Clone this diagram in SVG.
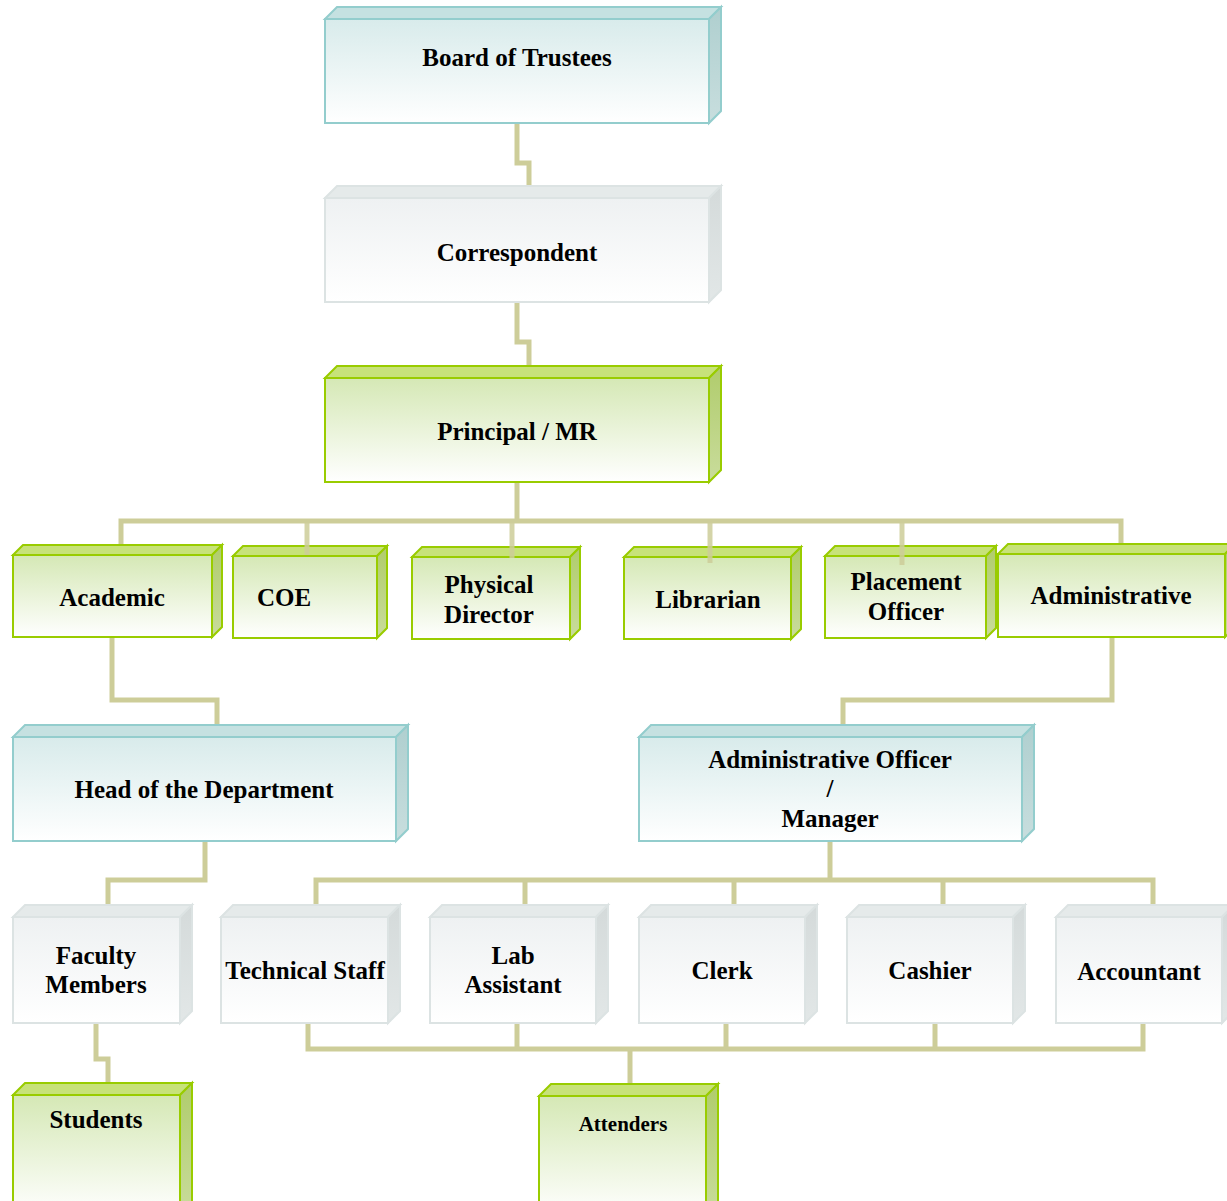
<svg xmlns="http://www.w3.org/2000/svg" width="1227" height="1201" viewBox="0 0 1227 1201">
<defs>
<linearGradient id="gBlue" x1="0" y1="0" x2="0" y2="1"><stop offset="0" stop-color="#d8ebeb"/><stop offset="1" stop-color="#ffffff"/></linearGradient>
<linearGradient id="gGreen" x1="0" y1="0" x2="0" y2="1"><stop offset="0" stop-color="#d5e8b5"/><stop offset="1" stop-color="#ffffff"/></linearGradient>
<linearGradient id="gGray" x1="0" y1="0" x2="0" y2="1"><stop offset="0" stop-color="#eef1f2"/><stop offset="1" stop-color="#ffffff"/></linearGradient>
<linearGradient id="sBlue" x1="0" y1="0" x2="0" y2="1"><stop offset="0" stop-color="#afcfcf"/><stop offset="1" stop-color="#c8dede"/></linearGradient>
<linearGradient id="sGreen" x1="0" y1="0" x2="0" y2="1"><stop offset="0" stop-color="#b0cc6c"/><stop offset="1" stop-color="#c9dc9c"/></linearGradient>
<linearGradient id="sGray" x1="0" y1="0" x2="0" y2="1"><stop offset="0" stop-color="#d4dada"/><stop offset="1" stop-color="#e2e7e7"/></linearGradient>
</defs>
<style>
.blue .t{fill:#c5e1e1;stroke:#93cdcd;stroke-width:2}
.blue .s{fill:url(#sBlue);stroke:#93cdcd;stroke-width:2}
.blue .f{fill:url(#gBlue);stroke:#93cdcd;stroke-width:2}
.green .t{fill:#c7e27a;stroke:#99cc00;stroke-width:2}
.green .s{fill:url(#sGreen);stroke:#99cc00;stroke-width:2}
.green .f{fill:url(#gGreen);stroke:#99cc00;stroke-width:2}
.gray .t{fill:#e5eaea;stroke:#dce3e3;stroke-width:2}
.gray .s{fill:url(#sGray);stroke:#dce3e3;stroke-width:2}
.gray .f{fill:url(#gGray);stroke:#dce3e3;stroke-width:2}
text{font-family:"Liberation Serif","Times New Roman",serif;font-weight:bold;font-size:25px;fill:#000;text-anchor:middle}
.sm{font-size:21px}
.conn path{fill:none;stroke:#cdcd99;stroke-width:5}
</style>
<g id="nodes">
<g id="board" class="blue"><path class="t" d="M325 19 L337 7 H721 L709 19 Z"/><path class="s" d="M709 19 L721 7 V111 L709 123 Z"/><rect class="f" x="325" y="19" width="384" height="104"/><text x="517" y="66">Board of Trustees</text></g>
<g id="correspondent" class="gray"><path class="t" d="M325 198 L337 186 H721 L709 198 Z"/><path class="s" d="M709 198 L721 186 V290 L709 302 Z"/><rect class="f" x="325" y="198" width="384" height="104"/><text x="517" y="261">Correspondent</text></g>
<g id="principal" class="green"><path class="t" d="M325 378 L337 366 H721 L709 378 Z"/><path class="s" d="M709 378 L721 366 V470 L709 482 Z"/><rect class="f" x="325" y="378" width="384" height="104"/><text x="517" y="440">Principal / MR</text></g>
<g id="academic" class="green"><path class="t" d="M13 555 L23 545 H222 L212 555 Z"/><path class="s" d="M212 555 L222 545 V627 L212 637 Z"/><rect class="f" x="13" y="555" width="199" height="82"/><text x="112" y="606">Academic</text></g>
<g id="coe" class="green"><path class="t" d="M233 556 L243 546 H387 L377 556 Z"/><path class="s" d="M377 556 L387 546 V628 L377 638 Z"/><rect class="f" x="233" y="556" width="144" height="82"/><text x="284" y="606">COE</text></g>
<g id="physical-director" class="green"><path class="t" d="M412 557 L422 547 H580 L570 557 Z"/><path class="s" d="M570 557 L580 547 V629 L570 639 Z"/><rect class="f" x="412" y="557" width="158" height="82"/><text x="489" y="593">Physical</text><text x="489" y="623">Director</text></g>
<g id="librarian" class="green"><path class="t" d="M624 557 L634 547 H801 L791 557 Z"/><path class="s" d="M791 557 L801 547 V629 L791 639 Z"/><rect class="f" x="624" y="557" width="167" height="82"/><text x="708" y="608">Librarian</text></g>
<g id="placement-officer" class="green"><path class="t" d="M825 556 L835 546 H996 L986 556 Z"/><path class="s" d="M986 556 L996 546 V628 L986 638 Z"/><rect class="f" x="825" y="556" width="161" height="82"/><text x="906" y="590">Placement</text><text x="906" y="620">Officer</text></g>
<g id="administrative" class="green"><path class="t" d="M998 554 L1008 544 H1235 L1225 554 Z"/><path class="s" d="M1225 554 L1235 544 V627 L1225 637 Z"/><rect class="f" x="998" y="554" width="227" height="83"/><text x="1111" y="604">Administrative</text></g>
<g id="hod" class="blue"><path class="t" d="M13 737 L25 725 H408 L396 737 Z"/><path class="s" d="M396 737 L408 725 V829 L396 841 Z"/><rect class="f" x="13" y="737" width="383" height="104"/><text x="204" y="798">Head of the Department</text></g>
<g id="admin-officer" class="blue"><path class="t" d="M639 737 L651 725 H1034 L1022 737 Z"/><path class="s" d="M1022 737 L1034 725 V829 L1022 841 Z"/><rect class="f" x="639" y="737" width="383" height="104"/><text x="830" y="768">Administrative Officer</text><text x="830" y="797">/</text><text x="830" y="827">Manager</text></g>
<g id="faculty" class="gray"><path class="t" d="M13 917 L25 905 H192 L180 917 Z"/><path class="s" d="M180 917 L192 905 V1011 L180 1023 Z"/><rect class="f" x="13" y="917" width="167" height="106"/><text x="96" y="964">Faculty</text><text x="96" y="993">Members</text></g>
<g id="technical-staff" class="gray"><path class="t" d="M221 917 L233 905 H400 L388 917 Z"/><path class="s" d="M388 917 L400 905 V1011 L388 1023 Z"/><rect class="f" x="221" y="917" width="167" height="106"/><text x="305" y="979">Technical Staff</text></g>
<g id="lab-assistant" class="gray"><path class="t" d="M430 917 L442 905 H608 L596 917 Z"/><path class="s" d="M596 917 L608 905 V1011 L596 1023 Z"/><rect class="f" x="430" y="917" width="166" height="106"/><text x="513" y="964">Lab</text><text x="513" y="993">Assistant</text></g>
<g id="clerk" class="gray"><path class="t" d="M639 917 L651 905 H817 L805 917 Z"/><path class="s" d="M805 917 L817 905 V1011 L805 1023 Z"/><rect class="f" x="639" y="917" width="166" height="106"/><text x="722" y="979">Clerk</text></g>
<g id="cashier" class="gray"><path class="t" d="M847 917 L859 905 H1025 L1013 917 Z"/><path class="s" d="M1013 917 L1025 905 V1011 L1013 1023 Z"/><rect class="f" x="847" y="917" width="166" height="106"/><text x="930" y="979">Cashier</text></g>
<g id="accountant" class="gray"><path class="t" d="M1056 917 L1068 905 H1234 L1222 917 Z"/><path class="s" d="M1222 917 L1234 905 V1011 L1222 1023 Z"/><rect class="f" x="1056" y="917" width="166" height="106"/><text x="1139" y="980">Accountant</text></g>
<g id="students" class="green"><path class="t" d="M13 1095 L25 1083 H192 L180 1095 Z"/><path class="s" d="M180 1095 L192 1083 V1203 L180 1215 Z"/><rect class="f" x="13" y="1095" width="167" height="120"/><text x="96" y="1128">Students</text></g>
<g id="attenders" class="green"><path class="t" d="M539 1096 L551 1084 H718 L706 1096 Z"/><path class="s" d="M706 1096 L718 1084 V1204 L706 1216 Z"/><rect class="f" x="539" y="1096" width="167" height="120"/><text class="sm" x="623" y="1131">Attenders</text></g>
</g>
<g id="connectors" class="conn">
<path d="M517 124 V163 H529 V185"/>
<path d="M517 303 V342 H529 V365"/>
<path d="M517 483 V521"/>
<path d="M121 544 V521 H1121 V543"/>
<path d="M307 521 V555" opacity="0.85"/>
<path d="M512 521 V558" opacity="0.85"/>
<path d="M710 521 V563" opacity="0.85"/>
<path d="M902 521 V565" opacity="0.85"/>
<path d="M112 638 V700 H217 V724"/>
<path d="M1112 638 V700 H843 V724"/>
<path d="M205 842 V880 H108 V904"/>
<path d="M830 842 V880"/>
<path d="M316 904 V880 H1153 V904"/>
<path d="M525 880 V904"/>
<path d="M734 880 V904"/>
<path d="M943 880 V904"/>
<path d="M96 1024 V1059 H108 V1082"/>
<path d="M308 1024 V1049 H1143 V1024"/>
<path d="M517 1024 V1049"/>
<path d="M726 1024 V1049"/>
<path d="M935 1024 V1049"/>
<path d="M630 1049 V1083"/>
</g>
</svg>
